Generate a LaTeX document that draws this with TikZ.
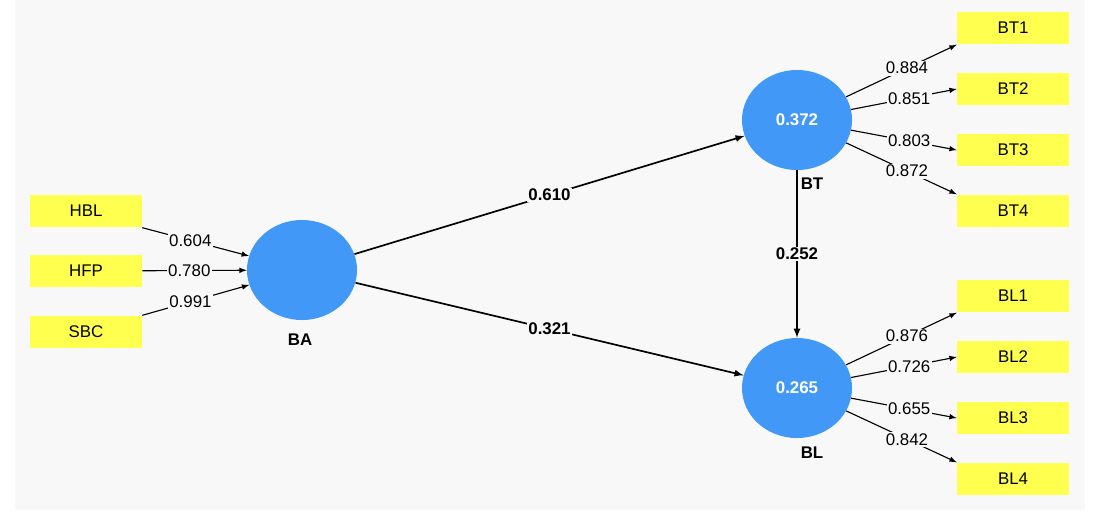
\documentclass[tikz,border=0pt]{standalone}
\usepackage{fontspec}
\setmainfont{Liberation Sans}
\usetikzlibrary{shapes.geometric}
\definecolor{ind}{RGB}{255,255,80}
\definecolor{lat}{RGB}{66,152,247}
\definecolor{bg}{RGB}{248,248,248}
\tikzset{
  item/.style={draw=none,fill=ind,minimum width=2.8cm,minimum height=0.82cm,font=\large},
  latent/.style={ellipse,fill=lat,minimum width=2.75cm,minimum height=2.5cm,text=white,font=\large\bfseries},
  load/.style={draw,-latex,thick},
  coef/.style={fill=bg,inner sep=1pt,font=\large},
  path/.style={draw,-latex,very thick},
  pcoef/.style={fill=bg,inner sep=1pt,font=\large\bfseries}
}
\begin{document}
\begin{tikzpicture}[x=0.025cm,y=-0.025cm]
    \useasboundingbox (0,0) rectangle (1102,516);
    \fill[white] (0,0) rectangle (1102,516);
    \fill[bg] (15,0) rectangle (1085,510);

    \node[latent] (ba) at (302,270) {};
    \node[latent] (bt) at (797,120) {0.372};
    \node[latent] (bl) at (797,388) {0.265};
    \node[font=\large\bfseries] at (300,340) {BA};
    \node[font=\large\bfseries] at (812,184) {BT};
    \node[font=\large\bfseries] at (812,453) {BL};

    \node[item] (hbl) at (86,211) {HBL};
    \node[item] (hfp) at (86,271) {HFP};
    \node[item] (sbc) at (86,332) {SBC};

    \node[item] (bt1) at (1013,28) {BT1};
    \node[item] (bt2) at (1013,89) {BT2};
    \node[item] (bt3) at (1013,150) {BT3};
    \node[item] (bt4) at (1013,211) {BT4};
    \node[item] (bl1) at (1013,296) {BL1};
    \node[item] (bl2) at (1013,357) {BL2};
    \node[item] (bl3) at (1013,418) {BL3};
    \node[item] (bl4) at (1013,479) {BL4};

    % formative indicators
    \draw[load] (hbl.south east) -- node[coef,pos=0.45]{0.604} (ba);
    \draw[load] (hfp) -- node[coef,pos=0.45]{0.780} (ba);
    \draw[load] (sbc.north east) -- node[coef,pos=0.45]{0.991} (ba);

    % structural paths
    \draw[path] (ba) -- node[pcoef]{0.610} (bt);
    \draw[path] (ba) -- node[pcoef]{0.321} (bl);
    \draw[path] (bt) -- node[pcoef]{0.252} (bl);

    % loadings
    \draw[load] (bt) -- node[coef,pos=0.55]{0.884} (bt1.south west);
    \draw[load] (bt) -- node[coef,pos=0.55]{0.851} (bt2.west);
    \draw[load] (bt) -- node[coef,pos=0.55]{0.803} (bt3.west);
    \draw[load] (bt) -- node[coef,pos=0.55]{0.872} (bt4.north west);
    \draw[load] (bl) -- node[coef,pos=0.55]{0.876} (bl1.south west);
    \draw[load] (bl) -- node[coef,pos=0.55]{0.726} (bl2.west);
    \draw[load] (bl) -- node[coef,pos=0.55]{0.655} (bl3.west);
    \draw[load] (bl) -- node[coef,pos=0.55]{0.842} (bl4.north west);
\end{tikzpicture}
\end{document}
